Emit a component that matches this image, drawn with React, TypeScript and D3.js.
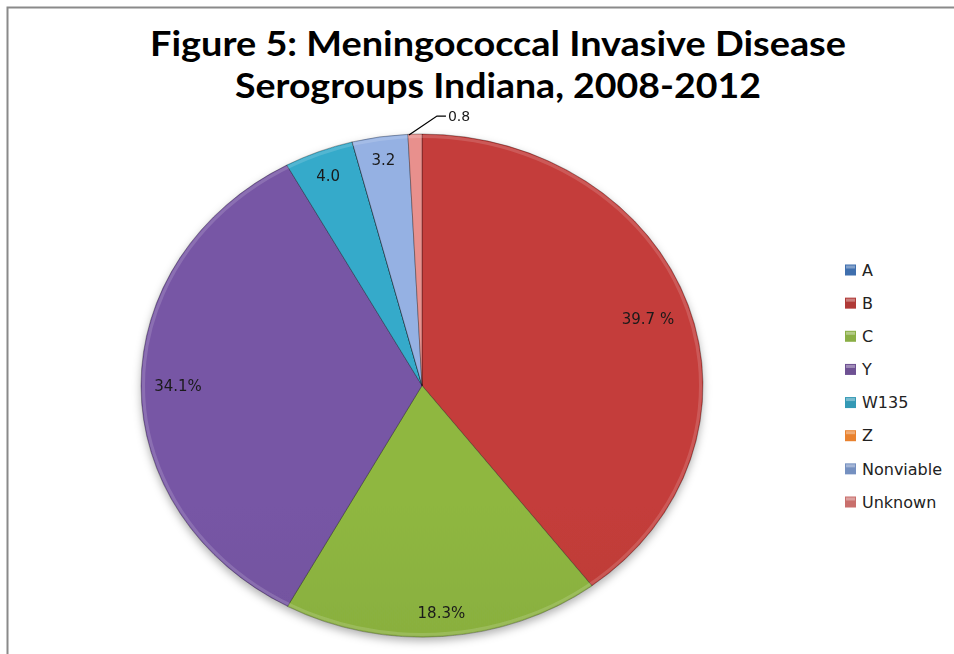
import React, { useEffect, useRef } from "react";
import * as d3 from "d3";

// Serogroups and their share of cases (%)
const categories = ["A", "B", "C", "Y", "W135", "Z", "Nonviable", "Unknown"];
const values = [0, 39.7, 18.3, 34.1, 4.0, 0, 3.2, 0.8];
const valueLabels = ["", "39.7 %", "18.3%", "34.1%", "4.0", "", "3.2", "0.8"];
const colors = ["#4A7EBB", "#C43D3A", "#8FB741", "#7756A5", "#34AACA", "#F38B36", "#95B1E3", "#E8908D"];
const legendColors = ["#3F6FAE", "#B03A37", "#8AAE45", "#6E5193", "#3499B5", "#E9822F", "#7590C0", "#C96F6C"];
const titleLines = ["Figure 5: Meningococcal Invasive Disease", "Serogroups Indiana, 2008-2012"];

const App: React.FC = () => {
  const ref = useRef<HTMLDivElement>(null);

  useEffect(() => {
    const width = 954;
    const height = 654;
    const cx = 422;
    const cy = 385.5;
    const rx = 281;
    const ry = 251.5;
    const sy = ry / rx;

    const svg = d3
      .select(ref.current)
      .append("svg")
      .attr("width", width)
      .attr("height", height)
      .style("position", "absolute")
      .style("left", "0px")
      .style("top", "0px");

    const defs = svg.append("defs");
    const shadow = defs.append("filter").attr("id", "shadow").attr("x", "-10%").attr("y", "-10%").attr("width", "120%").attr("height", "125%");
    shadow
      .append("feDropShadow")
      .attr("dx", 0)
      .attr("dy", 4)
      .attr("stdDeviation", 4)
      .attr("flood-color", "#000")
      .attr("flood-opacity", 0.3);

    // vertical gradient per series, darker toward the bottom
    colors.forEach((c, i) => {
      const g = defs
        .append("linearGradient")
        .attr("id", `grad${i}`)
        .attr("gradientUnits", "userSpaceOnUse")
        .attr("x1", 0)
        .attr("y1", cy - ry)
        .attr("x2", 0)
        .attr("y2", cy + ry);
      g.append("stop").attr("offset", "0%").attr("stop-color", c);
      g.append("stop").attr("offset", "100%").attr("stop-color", d3.color(c)!.darker(0.4).toString());
    });

    // chart frame
    svg
      .append("path")
      .attr("d", `M7.5,${height}V7.5H${width}`)
      .attr("fill", "none")
      .attr("stroke", "#8a8a8a")
      .attr("stroke-width", 2);

    // title
    const title = svg
      .append("g")
      .attr("font-family", "Lato, 'Open Sans', sans-serif")
      .attr("font-weight", "bold")
      .attr("font-size", 34)
      .attr("fill", "#000")
      .attr("text-anchor", "middle");
    title
      .selectAll("text")
      .data(titleLines)
      .join("text")
      .attr("x", 498)
      .attr("y", (_, i) => 56 + i * 42)
      .attr("textLength", (_, i) => (i === 0 ? 696 : 526))
      .attr("lengthAdjust", "spacingAndGlyphs")
      .text((d) => d);

    const pie = d3
      .pie<number>()
      .value((d) => d)
      .sort(null);
    const arcs = pie(values);
    const arc = d3.arc<d3.PieArcDatum<number>>().innerRadius(0).outerRadius(rx);

    const pieG = svg.append("g").attr("filter", "url(#shadow)");
    pieG
      .selectAll("path")
      .data(arcs)
      .join("path")
      .attr("d", (d) => arc(d))
      .attr("transform", `translate(${cx},${cy}) scale(1,${sy})`)
      .attr("fill", (_, i) => `url(#grad${i})`)
      .attr("stroke", "rgba(0,0,0,0.3)")
      .attr("stroke-width", 1)
      .attr("vector-effect", "non-scaling-stroke");

    // subtle bevel highlight along the rim
    svg
      .append("ellipse")
      .attr("cx", cx)
      .attr("cy", cy)
      .attr("rx", rx - 2.5)
      .attr("ry", ry - 2.5)
      .attr("fill", "none")
      .attr("stroke", "rgba(255,255,255,0.15)")
      .attr("stroke-width", 3);

    // data labels: inside end, small last slice outside with leader
    const labels = svg
      .append("g")
      .attr("font-family", "'DejaVu Sans', Verdana, sans-serif")
      .attr("font-size", 15)
      .attr("fill", "#1a1a1a");

    arcs.forEach((d, i) => {
      if (!valueLabels[i]) return;
      const mid = (d.startAngle + d.endAngle) / 2;
      const ux = Math.sin(mid);
      const uy = -Math.cos(mid);
      const ex = cx + rx * ux;
      const ey = cy + ry * uy;
      if (i === values.length - 1) {
        const lx = ex + 22;
        const ly = ey - 18;
        labels
          .append("path")
          .attr("d", `M${ex - 6},${ey + 1}L${lx},${ly}H${lx + 9}`)
          .attr("fill", "none")
          .attr("stroke", "#000")
          .attr("stroke-width", 1.3);
        labels
          .append("text")
          .attr("x", lx + 11)
          .attr("y", ly)
          .attr("dy", "0.35em")
          .attr("font-size", 14)
          .text(valueLabels[i]);
        return;
      }
      const w = valueLabels[i].length * 9.2;
      const h = 15;
      const pad = 14;
      const ext = Math.abs(ux) * (w / 2) + Math.abs(uy) * (h / 2);
      labels
        .append("text")
        .attr("x", ex - (pad + ext) * ux)
        .attr("y", ey - (pad + ext) * uy)
        .attr("dy", "0.35em")
        .attr("text-anchor", "middle")
        .text(valueLabels[i]);
    });

    // legend
    const y = d3.scalePoint<string>().domain(categories).range([270, 502]);
    const legend = svg
      .append("g")
      .attr("font-family", "'DejaVu Sans', Verdana, sans-serif")
      .attr("font-size", 16)
      .attr("fill", "#222");
    const item = legend
      .selectAll("g")
      .data(categories)
      .join("g")
      .attr("transform", (d) => `translate(845,${y(d)})`);
    item
      .append("rect")
      .attr("x", 0)
      .attr("y", -5.5)
      .attr("width", 11)
      .attr("height", 11)
      .attr("fill", (_, i) => legendColors[i]);
    item
      .append("rect")
      .attr("x", 1)
      .attr("y", -4.5)
      .attr("width", 9)
      .attr("height", 3)
      .attr("fill", "rgba(255,255,255,0.35)");
    item
      .append("text")
      .attr("x", 17)
      .attr("dy", "0.36em")
      .text((d) => d);

    return () => {
      d3.select(ref.current).select("svg").remove();
    };
  }, []);

  return <div ref={ref}></div>;
};

export default App;
